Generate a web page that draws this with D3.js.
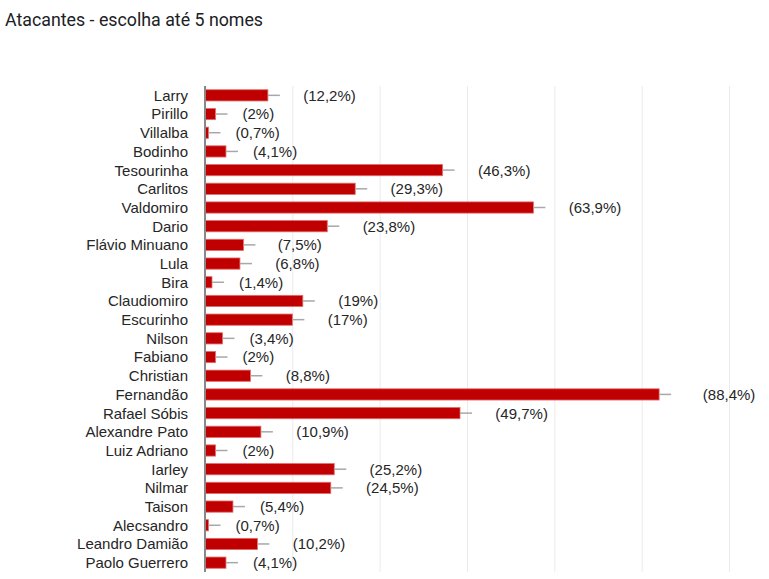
<!DOCTYPE html>
<html>
<head>
<meta charset="utf-8">
<title>Atacantes</title>
<script src="https://cdn.jsdelivr.net/npm/d3@7"></script>
<style>
  html, body { margin: 0; padding: 0; background: #fff; }
  svg text { font-family: "Liberation Sans", Arial, sans-serif; }
</style>
</head>
<body>
<div id="chart"></div>
<script>
// respostas (total 147)
var names = ["Larry", "Pirillo", "Villalba", "Bodinho", "Tesourinha", "Carlitos",
  "Valdomiro", "Dario", "Flávio Minuano", "Lula", "Bira", "Claudiomiro", "Escurinho",
  "Nilson", "Fabiano", "Christian", "Fernandão", "Rafael Sóbis", "Alexandre Pato",
  "Luiz Adriano", "Iarley", "Nilmar", "Taison", "Alecsandro", "Leandro Damião",
  "Paolo Guerrero"];
var counts = [18, 3, 1, 6, 68, 43, 94, 35, 11, 10, 2, 28, 25, 5, 3, 13, 130, 73, 16,
  3, 37, 36, 8, 1, 15, 6];
var percents = [12.2, 2, 0.7, 4.1, 46.3, 29.3, 63.9, 23.8, 7.5, 6.8, 1.4, 19, 17, 3.4,
  2, 8.8, 88.4, 49.7, 10.9, 2, 25.2, 24.5, 5.4, 0.7, 10.2, 4.1];
var gridTicks = [0, 25, 50, 75, 100, 125, 150];
var title = "Atacantes - escolha até 5 nomes";

var width = 769, height = 579;
var rows = names.map(function(n, i) {
  return { name: n, count: counts[i], pct: percents[i] };
});

var svg = d3.select("#chart").append("svg")
  .attr("width", width)
  .attr("height", height);

svg.append("text")
  .attr("x", 5)
  .attr("y", 26)
  .style("font-family", "Roboto, sans-serif")
  .style("font-size", "17.8px")
  .attr("fill", "#202124")
  .text(title);

var x = d3.scaleLinear().domain([0, 150]).range([205, 729]);
var y = d3.scaleBand().domain(names).range([86, 572])
  .paddingInner(0.4).paddingOuter(0.2);

// gridlines
svg.append("g").selectAll("line")
  .data(gridTicks.slice(1))
  .enter().append("line")
  .attr("x1", function(d) { return x(d) + 0.5; })
  .attr("x2", function(d) { return x(d) + 0.5; })
  .attr("y1", 86)
  .attr("y2", 572)
  .attr("stroke", "#ebebeb")
  .attr("stroke-width", 1);

// category labels
svg.append("g").selectAll("text")
  .data(rows)
  .enter().append("text")
  .attr("x", 188)
  .attr("y", function(d) { return y(d.name) + y.bandwidth() / 2; })
  .attr("dy", "0.36em")
  .attr("text-anchor", "end")
  .attr("fill", "#262626")
  .style("font-size", "15px")
  .text(function(d) { return d.name; });

// bars
svg.append("g").selectAll("rect")
  .data(rows)
  .enter().append("rect")
  .attr("x", x(0))
  .attr("y", function(d) { return y(d.name); })
  .attr("width", function(d) { return x(d.count) - x(0); })
  .attr("height", y.bandwidth())
  .attr("fill", "#c00000")
  .attr("stroke", "#e36a6a")
  .attr("stroke-width", 0.8);

// little grey whisker after each bar
svg.append("g").selectAll("line")
  .data(rows)
  .enter().append("line")
  .attr("x1", function(d) { return x(d.count); })
  .attr("x2", function(d) { return x(d.count) + 12; })
  .attr("y1", function(d) { return y(d.name) + y.bandwidth() / 2; })
  .attr("y2", function(d) { return y(d.name) + y.bandwidth() / 2; })
  .attr("stroke", "#a8a8a8")
  .attr("stroke-width", 1.5);

// axis line
svg.append("line")
  .attr("x1", x(0)).attr("x2", x(0))
  .attr("y1", 86).attr("y2", 572)
  .attr("stroke", "#888")
  .attr("stroke-width", 2);

// value labels: the count is there but hidden, only the percentage shows
var fmt = function(p) { return "(" + String(p).replace(".", ",") + "%)"; };
var labels = svg.append("g").selectAll("text")
  .data(rows)
  .enter().append("text")
  .attr("x", function(d) { return x(d.count) + 14.5; })
  .attr("y", function(d) { return y(d.name) + y.bandwidth() / 2; })
  .attr("dy", "0.36em")
  .attr("fill", "#262626")
  .style("font-size", "15px")
  .style("white-space", "pre");
labels.append("tspan")
  .attr("fill-opacity", 0)
  .text(function(d) { return d.count + " "; });
labels.append("tspan")
  .text(function(d) { return fmt(d.pct); });
</script>
</body>
</html>
